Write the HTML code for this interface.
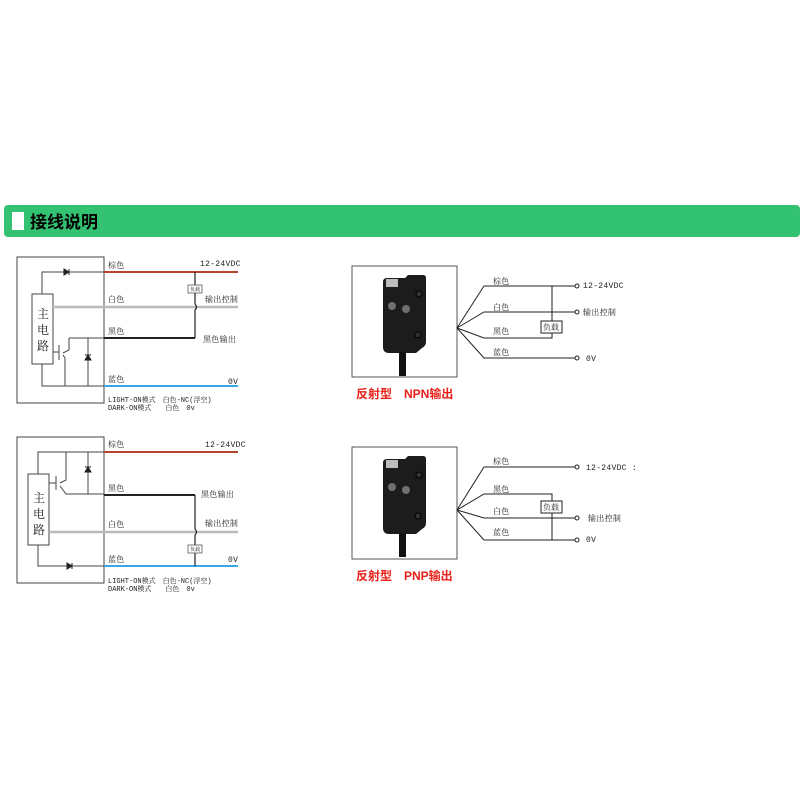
<!DOCTYPE html>
<html><head><meta charset="utf-8"><style>
html,body{margin:0;padding:0;background:#fff;width:800px;height:800px;overflow:hidden}
svg{display:block}
text{font-family:"Liberation Mono","Noto Serif CJK SC",monospace;font-size:8px;fill:#222;letter-spacing:0.3px}
.cap{font-family:"Liberation Sans","Noto Sans CJK SC",sans-serif;font-size:12px;font-weight:bold;fill:#e8201a;letter-spacing:0}
</style></head><body>
<svg width="800" height="800" viewBox="0 0 800 800">
<defs>
<g id="sensor">
<path d="M383 282 q0-4 4-4 h18 l3-3 h15 q3 0 3 3 v64 q0 4-4 6 l-6 5 h-27 q-6 0-6-6 z" fill="#1c1c1c"/>
<rect x="386" y="279" width="12" height="8" fill="#bdbdbd"/>
<circle cx="392" cy="306" r="4" fill="#6f6f6f"/>
<circle cx="406" cy="309" r="4" fill="#6f6f6f"/>
<circle cx="419" cy="294" r="3" fill="#333" stroke="#000"/>
<circle cx="418" cy="335" r="3" fill="#333" stroke="#000"/>
<rect x="399" y="352" width="7" height="24" fill="#111"/>
</g>
</defs>
<rect x="4" y="205" width="796" height="32" rx="4" fill="#33c172"/>
<rect x="12" y="212" width="12" height="18" fill="#fff"/>
<text x="30" y="228" style="font-family:'Liberation Sans','Noto Sans CJK SC',sans-serif;font-size:17px;font-weight:bold;fill:#000;letter-spacing:0">接线说明</text>

<g fill="none" stroke="#444" stroke-width="1">
<rect x="17" y="257" width="87" height="146"/>
<rect x="32" y="294" width="21" height="70" fill="#fff"/>
<polyline points="42,294 42,272 104,272"/>
<polyline points="42,364 42,386 104,386"/>
<polyline points="69,338 69,350 63,353"/>
<line x1="59" y1="345" x2="59" y2="360"/>
<line x1="53" y1="352" x2="59" y2="352"/>
<polyline points="63,355 65,358 65,386"/>
<line x1="69" y1="338" x2="104" y2="338"/>
<line x1="88" y1="338" x2="88" y2="386"/>
</g>
<path d="M64 269 v6 l5-3 z M69 269 v6" fill="#222" stroke="#222"/>
<path d="M85 360 h6 l-3-5 z M85 355 h6" fill="#222" stroke="#222"/>
<line x1="104" y1="272" x2="238" y2="272" stroke="#b5452f" stroke-width="2"/>
<line x1="53" y1="307" x2="238" y2="307" stroke="#bbb" stroke-width="2.5"/>
<line x1="104" y1="338" x2="195" y2="338" stroke="#222" stroke-width="2"/>
<line x1="104" y1="386" x2="238" y2="386" stroke="#35a9e2" stroke-width="2"/>
<path d="M195 272 V304 q3 3 0 6 V338" fill="none" stroke="#222" stroke-width="1.2"/>
<rect x="188" y="285" width="14" height="8" fill="#fff" stroke="#444" stroke-width=".7"/>
<text x="190" y="291" style="font-size:5px;letter-spacing:0">负载</text>
<text x="108" y="268">棕色</text><text x="200" y="266">12-24VDC</text>
<text x="108" y="302">白色</text><text x="205" y="302">输出控制</text>
<text x="108" y="334">黑色</text><text x="203" y="342">黑色输出</text>
<text x="108" y="382">蓝色</text><text x="228" y="384">0V</text>
<text x="108" y="402" style="font-size:7px;letter-spacing:0">LIGHT-ON模式　白色-NC(浮空)</text>
<text x="108" y="410" style="font-size:7px;letter-spacing:0">DARK-ON模式　　白色　0v</text>
<text x="37" y="318" style="font-size:12px">主</text>
<text x="37" y="334" style="font-size:12px">电</text>
<text x="37" y="350" style="font-size:12px">路</text>

<g fill="none" stroke="#444" stroke-width="1">
<rect x="17" y="437" width="87" height="146"/>
<rect x="28" y="474" width="21" height="71" fill="#fff"/>
<polyline points="38,474 38,452 104,452"/>
<polyline points="38,545 38,566 104,566"/>
<polyline points="66,452 66,480 60,483"/>
<line x1="56" y1="476" x2="56" y2="490"/>
<line x1="49" y1="483" x2="56" y2="483"/>
<polyline points="60,486 66,494 104,494"/>
<line x1="88" y1="452" x2="88" y2="494"/>
</g>
<path d="M85 472 h6 l-3-5 z M85 467 h6" fill="#222" stroke="#222"/>
<path d="M67 563 v6 l5-3 z M72 563 v6" fill="#222" stroke="#222"/>
<line x1="104" y1="452" x2="238" y2="452" stroke="#b5452f" stroke-width="2"/>
<line x1="104" y1="495" x2="195" y2="495" stroke="#222" stroke-width="2"/>
<line x1="49" y1="532" x2="238" y2="532" stroke="#bbb" stroke-width="2.5"/>
<line x1="104" y1="566" x2="238" y2="566" stroke="#35a9e2" stroke-width="2"/>
<path d="M195 495 V529 q3 3 0 6 V566" fill="none" stroke="#222" stroke-width="1.2"/>
<rect x="188" y="545" width="14" height="8" fill="#fff" stroke="#444" stroke-width=".7"/>
<text x="190" y="551" style="font-size:5px;letter-spacing:0">负载</text>
<text x="108" y="447">棕色</text><text x="205" y="447">12-24VDC</text>
<text x="108" y="491">黑色</text><text x="201" y="497">黑色输出</text>
<text x="108" y="527">白色</text><text x="205" y="526">输出控制</text>
<text x="108" y="562">蓝色</text><text x="228" y="562">0V</text>
<text x="108" y="583" style="font-size:7px;letter-spacing:0">LIGHT-ON模式　白色-NC(浮空)</text>
<text x="108" y="591" style="font-size:7px;letter-spacing:0">DARK-ON模式　　白色　0v</text>
<text x="33" y="502" style="font-size:12px">主</text>
<text x="33" y="518" style="font-size:12px">电</text>
<text x="33" y="534" style="font-size:12px">路</text>

<rect x="352" y="266" width="105" height="111" fill="#fff" stroke="#555"/>
<use href="#sensor"/>
<g fill="none" stroke="#222" stroke-width="1">
<polyline points="457,328 484,286 575,286"/>
<polyline points="457,328 484,312 575,312"/>
<polyline points="457,328 484,338 552,338 552,286"/>
<polyline points="457,328 484,358 575,358"/>
<rect x="541" y="321" width="21" height="12" fill="#fff"/>
<circle cx="577" cy="286" r="2"/><circle cx="577" cy="312" r="2"/><circle cx="577" cy="358" r="2"/>
</g>
<text x="493" y="284">棕色</text><text x="583" y="288">12-24VDC</text>
<text x="493" y="310">白色</text><text x="583" y="315">输出控制</text>
<text x="493" y="334">黑色</text><text x="543" y="330" style="letter-spacing:0">负载</text>
<text x="493" y="355">蓝色</text><text x="586" y="361">0V</text>
<text x="356" y="398" class="cap">反射型　NPN输出</text>

<rect x="352" y="447" width="105" height="112" fill="#fff" stroke="#555"/>
<use href="#sensor" transform="translate(0,181)"/>
<g fill="none" stroke="#222" stroke-width="1">
<polyline points="457,510 484,467 575,467"/>
<polyline points="457,510 484,494 552,494 552,540"/>
<polyline points="457,510 484,518 575,518"/>
<polyline points="457,510 484,540 575,540"/>
<rect x="541" y="501" width="21" height="12" fill="#fff"/>
<circle cx="577" cy="467" r="2"/><circle cx="577" cy="518" r="2"/><circle cx="577" cy="540" r="2"/>
</g>
<text x="493" y="464">棕色</text><text x="586" y="470">12-24VDC :</text>
<text x="493" y="492">黑色</text><text x="543" y="510" style="letter-spacing:0">负载</text>
<text x="493" y="514">白色</text><text x="588" y="521">输出控制</text>
<text x="493" y="535">蓝色</text><text x="586" y="542">0V</text>
<text x="356" y="580" class="cap">反射型　PNP输出</text>
</svg>
</body></html>
